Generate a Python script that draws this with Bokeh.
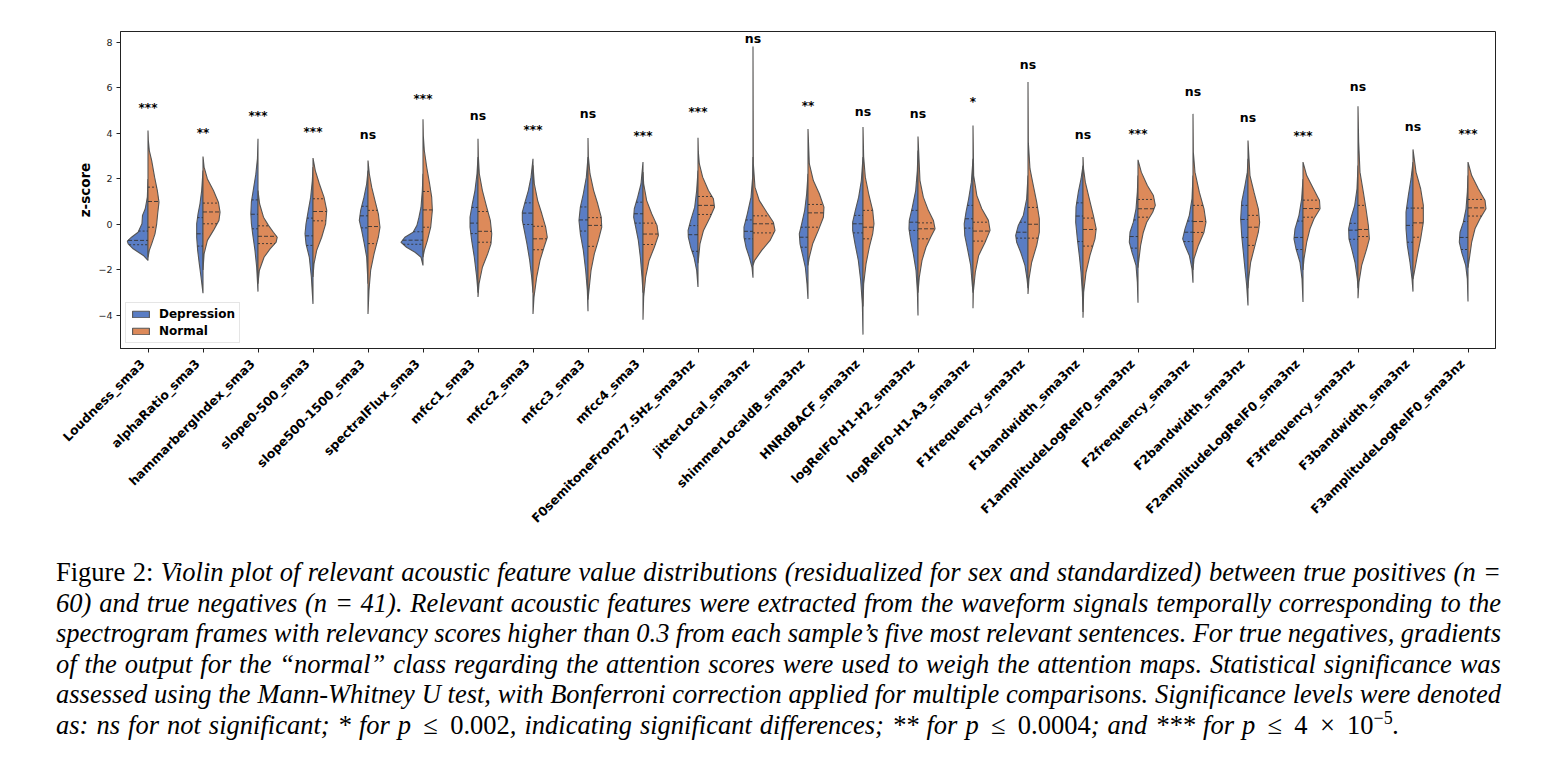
import numpy as np
from bokeh.plotting import figure
from bokeh.models import (Range1d, FixedTicker, Legend, LegendItem, Div, ColumnDataSource,
                          LinearAxis)
from bokeh.layouts import column
from bokeh.embed import file_html
from bokeh.resources import INLINE
from bokeh.core.properties import value

features = ["Loudness_sma3", "alphaRatio_sma3", "hammarbergIndex_sma3", "slope0-500_sma3",
            "slope500-1500_sma3", "spectralFlux_sma3", "mfcc1_sma3", "mfcc2_sma3", "mfcc3_sma3",
            "mfcc4_sma3", "F0semitoneFrom27.5Hz_sma3nz", "jitterLocal_sma3nz", "shimmerLocaldB_sma3nz",
            "HNRdBACF_sma3nz", "logRelF0-H1-H2_sma3nz", "logRelF0-H1-A3_sma3nz", "F1frequency_sma3nz",
            "F1bandwidth_sma3nz", "F1amplitudeLogRelF0_sma3nz", "F2frequency_sma3nz", "F2bandwidth_sma3nz",
            "F2amplitudeLogRelF0_sma3nz", "F3frequency_sma3nz", "F3bandwidth_sma3nz",
            "F3amplitudeLogRelF0_sma3nz"]

sig_labels = ["***", "**", "***", "***", "ns", "***", "ns", "***", "ns", "***", "***", "ns", "**",
              "ns", "ns", "*", "ns", "ns", "***", "ns", "ns", "***", "ns", "ns", "***"]
sig_y = [5.16, 4.06, 4.82, 4.09, 3.91, 5.55, 4.76, 4.18, 4.87, 3.91, 4.97, 8.16, 5.23, 4.94, 4.84,
         5.41, 6.99, 3.94, 4.01, 5.82, 4.67, 3.94, 6.02, 4.29, 4.01]

# Depression (left halves): density profile, z-score levels and half-widths
dep_y = [
    [-1.58, -1.36, -1.07, -0.85, -0.73, -0.56, -0.34, 0.03, 0.40, 0.69, 1.2, 2.0],
    [-3.02, -2.31, -1.73, -1.14, -0.56, 0.03, 0.47, 0.91, 1.49, 2.37],
    [-2.95, -1.88, -1.14, -0.41, 0.03, 0.47, 1.0, 1.6, 2.2, 2.9, 3.77],
    [-3.49, -2.31, -1.44, -0.85, -0.41, 0.03, 0.62, 1.2, 1.93, 2.52],
    [-2.6, -1.44, -0.85, -0.26, 0.18, 0.62, 1.2, 1.79, 2.37],
    [-1.8, -1.44, -1.22, -1.0, -0.78, -0.56, -0.34, -0.04, 0.32, 0.76, 1.49, 2.23],
    [-3.0, -2.31, -1.44, -0.7, -0.12, 0.32, 0.91, 1.49, 2.23, 2.96],
    [-3.0, -2.31, -1.58, -0.85, -0.26, 0.18, 0.54, 0.98, 1.49, 2.08, 2.89],
    [-3.81, -2.9, -2.02, -1.14, -0.41, 0.18, 0.76, 1.35, 2.08, 2.96],
    [-3.0, -2.31, -1.44, -0.7, -0.12, 0.32, 0.69, 1.2, 1.79, 2.74],
    [-2.75, -2.02, -1.44, -1.0, -0.56, -0.26, 0.18, 0.76, 1.49, 2.37],
    [-2.34, -1.88, -1.44, -1.0, -0.56, -0.12, 0.47, 1.2, 2.08, 2.96],
    [-3.27, -2.61, -1.88, -1.29, -0.85, -0.41, 0.03, 0.62, 1.35, 2.23],
    [-4.84, -3.49, -2.46, -1.58, -0.85, -0.26, 0.1, 0.62, 1.2, 1.93, 2.96],
    [-4.0, -2.9, -2.02, -1.29, -0.7, -0.19, 0.18, 0.76, 1.49, 2.37, 3.25],
    [-3.0, -2.68, -1.8, -1.07, -0.48, 0.03, 0.54, 1.13, 1.86, 2.89],
    [-2.8, -2.39, -1.8, -1.22, -0.78, -0.48, -0.04, 0.4, 1.13, 2.15],
    [-3.85, -2.97, -2.1, -1.36, -0.63, 0.1, 0.76, 1.42, 2.0, 2.59],
    [-3.44, -2.53, -1.8, -1.22, -0.78, -0.34, 0.1, 0.69, 1.42, 2.15],
    [-2.56, -1.95, -1.36, -0.92, -0.63, -0.19, 0.4, 1.13, 2.15],
    [-3.56, -2.68, -1.95, -1.22, -0.48, 0.25, 0.98, 1.71, 2.3, 2.89],
    [-3.41, -2.39, -1.66, -1.07, -0.63, -0.19, 0.4, 1.13, 2.0],
    [-2.8, -2.39, -1.66, -1.07, -0.63, -0.19, 0.25, 0.84, 1.57, 2.59],
    [-2.95, -2.39, -1.66, -0.92, -0.19, 0.54, 1.27, 2.0, 2.74],
    [-3.38, -2.39, -1.8, -1.22, -0.78, -0.34, 0.1, 0.69, 1.42, 2.15],
]
dep_w = [
    [0, 0.085, 0.27, 0.36, 0.376, 0.30, 0.18, 0.11, 0.10, 0.05, 0.012, 0],
    [0, 0.036, 0.067, 0.097, 0.115, 0.115, 0.09, 0.055, 0.024, 0],
    [0, 0.024, 0.055, 0.097, 0.12, 0.13, 0.12, 0.08, 0.04, 0.01, 0],
    [0, 0.03, 0.067, 0.127, 0.145, 0.127, 0.085, 0.042, 0.012, 0],
    [0, 0.024, 0.067, 0.115, 0.158, 0.133, 0.073, 0.024, 0],
    [0, 0.036, 0.145, 0.3, 0.4, 0.33, 0.18, 0.11, 0.073, 0.036, 0.012, 0],
    [0, 0.024, 0.067, 0.115, 0.145, 0.145, 0.103, 0.055, 0.018, 0],
    [0, 0.024, 0.06, 0.11, 0.158, 0.194, 0.194, 0.145, 0.085, 0.036, 0],
    [0, 0.012, 0.042, 0.085, 0.139, 0.164, 0.139, 0.085, 0.03, 0],
    [0, 0.018, 0.048, 0.085, 0.133, 0.17, 0.158, 0.097, 0.036, 0],
    [0, 0.024, 0.073, 0.133, 0.176, 0.18, 0.133, 0.06, 0.024, 0],
    [0, 0.018, 0.067, 0.127, 0.164, 0.164, 0.103, 0.036, 0.006, 0],
    [0, 0.018, 0.048, 0.103, 0.145, 0.158, 0.115, 0.06, 0.024, 0],
    [0, 0.012, 0.042, 0.085, 0.145, 0.188, 0.188, 0.139, 0.079, 0.03, 0],
    [0, 0.012, 0.036, 0.085, 0.133, 0.164, 0.158, 0.103, 0.042, 0.012, 0],
    [0, 0.012, 0.042, 0.1, 0.15, 0.16, 0.127, 0.079, 0.03, 0],
    [0, 0.018, 0.055, 0.133, 0.206, 0.224, 0.176, 0.085, 0.024, 0],
    [0, 0.012, 0.036, 0.067, 0.103, 0.133, 0.127, 0.085, 0.036, 0],
    [0, 0.012, 0.036, 0.109, 0.158, 0.145, 0.085, 0.036, 0.012, 0],
    [0, 0.018, 0.067, 0.145, 0.188, 0.145, 0.067, 0.018, 0],
    [0, 0.024, 0.055, 0.085, 0.115, 0.133, 0.115, 0.055, 0.012, 0],
    [0, 0.018, 0.055, 0.127, 0.164, 0.145, 0.073, 0.024, 0],
    [0, 0.012, 0.055, 0.115, 0.164, 0.17, 0.133, 0.06, 0.018, 0],
    [0, 0.018, 0.055, 0.103, 0.127, 0.127, 0.085, 0.036, 0],
    [0, 0.012, 0.042, 0.115, 0.158, 0.145, 0.085, 0.036, 0.012, 0],
]
# Normal (right halves)
nor_y = [
    [-1.45, -1.14, -0.85, -0.41, 0.03, 0.47, 0.98, 1.49, 2.08, 2.81, 3.25, 3.7, 4.13],
    [-2.0, -1.29, -0.70, -0.26, 0.18, 0.54, 0.98, 1.49, 2.0, 2.52, 2.99],
    [-2.6, -2.02, -1.44, -1.07, -0.78, -0.56, -0.34, -0.04, 0.32, 0.9, 1.49],
    [-2.31, -1.73, -1.14, -0.56, 0.03, 0.62, 1.2, 1.79, 2.37, 2.92],
    [-3.93, -2.9, -2.02, -1.29, -0.56, -0.12, 0.47, 1.05, 1.64, 2.23, 2.81],
    [-1.44, -1.14, -0.7, -0.12, 0.62, 1.2, 1.79, 2.52, 3.25, 3.9, 4.62],
    [-3.19, -2.61, -1.88, -1.29, -0.85, -0.41, 0.18, 0.76, 1.49, 2.23, 3.0, 3.77],
    [-3.93, -3.19, -2.31, -1.58, -1.0, -0.56, -0.12, 0.47, 1.05, 1.79, 2.6],
    [-3.3, -2.02, -1.29, -0.7, -0.12, 0.32, 0.91, 1.49, 2.23, 3.0, 3.8],
    [-4.19, -3.19, -2.31, -1.58, -1.0, -0.48, -0.04, 0.47, 1.05, 1.79, 2.3],
    [-1.7, -1.44, -0.85, -0.26, 0.32, 0.76, 1.13, 1.49, 2.08, 2.67, 3.2, 3.81],
    [-1.8, -1.58, -1.14, -0.7, -0.26, 0.1, 0.54, 1.05, 1.64, 2.67, 5.0, 7.82],
    [-1.8, -1.44, -0.85, -0.26, 0.32, 0.76, 1.35, 1.93, 2.67, 4.2],
    [-3.6, -2.61, -1.73, -1.0, -0.41, 0.03, 0.62, 1.35, 2.08, 2.96, 4.28],
    [-3.0, -2.31, -1.58, -1.0, -0.56, -0.19, 0.18, 0.62, 1.2, 1.93, 3.87],
    [-3.68, -2.97, -2.1, -1.36, -0.78, -0.26, 0.18, 0.69, 1.27, 2.15, 4.35],
    [-3.05, -2.39, -1.66, -0.92, -0.34, 0.25, 0.98, 1.71, 2.45, 3.62, 6.26],
    [-4.1, -2.97, -2.1, -1.36, -0.63, -0.19, 0.4, 1.13, 1.86, 2.45, 2.96],
    [-1.9, -1.51, -0.92, -0.34, 0.1, 0.54, 0.84, 1.27, 1.71, 2.3, 2.84],
    [-2.0, -1.51, -0.92, -0.34, 0.1, 0.69, 1.42, 2.3, 3.18, 4.86],
    [-2.8, -2.39, -1.66, -0.92, -0.34, 0.1, 0.69, 1.42, 2.15, 3.69],
    [-2.0, -1.51, -0.78, -0.19, 0.25, 0.69, 1.05, 1.57, 2.15, 2.74],
    [-3.24, -2.53, -1.8, -1.07, -0.63, -0.04, 0.69, 1.42, 2.3, 3.62, 5.19],
    [-2.4, -2.1, -1.36, -0.63, 0.1, 0.84, 1.57, 2.3, 3.3],
    [-1.9, -1.51, -0.78, -0.19, 0.25, 0.69, 1.05, 1.57, 2.15, 2.74],
]
nor_w = [
    [0, 0.024, 0.067, 0.127, 0.158, 0.176, 0.2, 0.17, 0.12, 0.067, 0.024, 0.006, 0],
    [0, 0.02, 0.08, 0.19, 0.29, 0.31, 0.28, 0.19, 0.08, 0.02, 0],
    [0, 0.024, 0.11, 0.22, 0.33, 0.35, 0.28, 0.19, 0.1, 0.03, 0],
    [0, 0.018, 0.067, 0.158, 0.23, 0.25, 0.2, 0.115, 0.042, 0],
    [0, 0.018, 0.048, 0.11, 0.188, 0.218, 0.188, 0.127, 0.067, 0.024, 0],
    [0, 0.024, 0.08, 0.14, 0.17, 0.158, 0.12, 0.067, 0.024, 0.006, 0],
    [0, 0.018, 0.08, 0.176, 0.236, 0.25, 0.224, 0.158, 0.08, 0.024, 0.006, 0],
    [0, 0.018, 0.067, 0.127, 0.2, 0.26, 0.23, 0.16, 0.085, 0.024, 0],
    [0, 0.055, 0.115, 0.188, 0.25, 0.24, 0.176, 0.103, 0.036, 0.006, 0],
    [0, 0.012, 0.048, 0.11, 0.206, 0.28, 0.255, 0.158, 0.067, 0.012, 0],
    [0, 0.012, 0.036, 0.1, 0.22, 0.3, 0.28, 0.19, 0.085, 0.024, 0.006, 0],
    [0, 0.03, 0.158, 0.31, 0.4, 0.37, 0.25, 0.115, 0.036, 0.006, 0.003, 0],
    [0, 0.024, 0.085, 0.188, 0.28, 0.29, 0.206, 0.097, 0.024, 0],
    [0, 0.012, 0.055, 0.115, 0.176, 0.2, 0.176, 0.103, 0.042, 0.012, 0],
    [0, 0.024, 0.073, 0.145, 0.23, 0.31, 0.28, 0.188, 0.097, 0.036, 0],
    [0, 0.006, 0.042, 0.103, 0.22, 0.31, 0.28, 0.16, 0.07, 0.012, 0],
    [0, 0.018, 0.067, 0.158, 0.206, 0.206, 0.158, 0.097, 0.036, 0.006, 0],
    [0, 0.012, 0.055, 0.127, 0.218, 0.24, 0.188, 0.115, 0.042, 0.01, 0],
    [0, 0.018, 0.048, 0.097, 0.158, 0.267, 0.315, 0.28, 0.17, 0.06, 0],
    [0, 0.018, 0.097, 0.2, 0.236, 0.2, 0.115, 0.036, 0.006, 0],
    [0, 0.012, 0.048, 0.127, 0.188, 0.212, 0.188, 0.109, 0.036, 0],
    [0, 0.018, 0.067, 0.127, 0.2, 0.31, 0.3, 0.19, 0.067, 0],
    [0, 0.018, 0.067, 0.158, 0.206, 0.188, 0.145, 0.097, 0.036, 0.012, 0],
    [0, 0.024, 0.079, 0.139, 0.188, 0.188, 0.139, 0.055, 0],
    [0, 0.024, 0.067, 0.127, 0.218, 0.327, 0.31, 0.188, 0.067, 0],
]
# quartiles [q1, median, q3]
dep_q = [[-0.89, -0.70, -0.29], [-0.95, -0.41, 0.3], [-0.19, 0.45, 1.08], [-0.92, -0.5, 0.28],
         [-0.15, 0.38, 0.8], [-0.87, -0.69, -0.32], [-0.4, 0.06, 0.75], [0.0, 0.5, 0.95],
         [-0.29, 0.2, 0.77], [0.06, 0.47, 0.98], [-1.18, -0.45, -0.05], [-0.63, -0.3, 0.2],
         [-1.0, -0.56, -0.12], [-0.37, 0.03, 0.4], [-0.26, 0.1, 0.62], [-0.16, 0.25, 0.84],
         [-0.6, -0.34, 0.1], [-0.75, 0.37, 0.95], [-1.04, -0.53, 0.2], [-0.75, -0.34, 0.15],
         [-0.57, 0.22, 0.84], [-1.1, -0.57, 0.15], [-0.65, -0.25, 0.05], [-0.78, -0.04, 0.72],
         [-1.1, -0.57, 0.13]]
nor_q = [[-0.12, 1.01, 1.64], [0.03, 0.55, 0.94], [-0.84, -0.52, -0.06], [0.16, 0.57, 1.13],
         [-0.84, -0.09, 0.62], [-0.12, 0.64, 1.45], [-0.78, -0.3, 0.57], [-1.11, -0.63, -0.08],
         [-0.96, -0.04, 0.3], [-0.88, -0.42, 0.06], [0.44, 0.84, 1.23], [-0.37, 0.03, 0.38],
         [-0.12, 0.51, 0.88], [-0.63, -0.12, 0.62], [-0.63, -0.19, 0.07], [-0.73, -0.29, 0.1],
         [-0.6, 0.01, 0.75], [-0.95, -0.22, 0.28], [0.32, 0.69, 1.1], [-0.35, 0.13, 0.84],
         [-0.92, -0.12, 0.4], [0.32, 0.7, 1.07], [-0.53, -0.22, 0.84], [-0.56, 0.07, 0.72],
         [0.37, 0.73, 1.1]]

y_ticks = [-4, -2, 0, 2, 4, 6, 8]

BLUE = "#5a7dc4"
ORANGE = "#dd8a5a"
EDGE = "#555555"
FONT = "DejaVu Sans"
LABEL_SHIFT = 0.1   # matplotlib-style right alignment of rotated labels (category units)

p = figure(frame_width=1375, frame_height=317, min_border_left=120, min_border_right=45,
           min_border_top=31, min_border_bottom=190, output_backend="svg", toolbar_location=None,
           x_range=Range1d(-0.5, len(features) - 0.5), y_range=Range1d(-5.45, 8.48),
           background_fill_color="white", border_fill_color="white")
p.xgrid.visible = False
p.ygrid.visible = False
p.outline_line_color = "#222222"
p.outline_line_width = 1

# half violins
dep_xs, dep_ys, nor_xs, nor_ys = [], [], [], []
for i in range(len(features)):
    dep_xs.append([i - w for w in dep_w[i]])
    dep_ys.append(list(dep_y[i]))
    nor_xs.append([i + w for w in nor_w[i]])
    nor_ys.append(list(nor_y[i]))

r_dep = p.patches(dep_xs, dep_ys, fill_color=BLUE, line_color=EDGE, line_width=1.1)
r_nor = p.patches(nor_xs, nor_ys, fill_color=ORANGE, line_color=EDGE, line_width=1.1)

# quartile lines
med = dict(x0=[], x1=[], y=[])
qrt = dict(x0=[], x1=[], y=[])
for i in range(len(features)):
    for k, q in enumerate(dep_q[i]):
        w = float(np.interp(q, dep_y[i], dep_w[i]))
        d = med if k == 1 else qrt
        d["x0"].append(i - w); d["x1"].append(i); d["y"].append(q)
    for k, q in enumerate(nor_q[i]):
        w = float(np.interp(q, nor_y[i], nor_w[i]))
        d = med if k == 1 else qrt
        d["x0"].append(i); d["x1"].append(i + w); d["y"].append(q)
p.segment(x0="x0", x1="x1", y0="y", y1="y", source=ColumnDataSource(qrt),
          line_color="#333333", line_width=0.9, line_dash="2 2")
p.segment(x0="x0", x1="x1", y0="y", y1="y", source=ColumnDataSource(med),
          line_color="#333333", line_width=0.9, line_dash="4 2")

# significance labels
ast = dict(x=[], y=[], t=[])
nss = dict(x=[], y=[], t=[])
for i, (lab, yy) in enumerate(zip(sig_labels, sig_y)):
    d = nss if lab == "ns" else ast
    d["x"].append(i); d["y"].append(yy); d["t"].append(lab)
p.text(x="x", y="y", text="t", source=ColumnDataSource(nss), text_align="center",
       text_baseline="alphabetic", y_offset=-0.5, text_font=value(FONT), text_font_style="bold",
       text_font_size="12.5px", text_color="black")
p.text(x="x", y="y", text="t", source=ColumnDataSource(ast), text_align="center",
       text_baseline="alphabetic", y_offset=1.0, text_font=value(FONT), text_font_style="bold",
       text_font_size="12px", text_color="black")

# x axis 1: tick marks only
p.xaxis.ticker = FixedTicker(ticks=list(range(len(features))))
p.xaxis.major_label_overrides = {i: "" for i in range(len(features))}
p.xaxis.major_label_text_font_size = "0px"
p.xaxis.major_label_standoff = 0
p.xaxis.minor_tick_line_color = None

# x axis 2: feature names (rotated, right-aligned like matplotlib)
label_ticks = [i - LABEL_SHIFT for i in range(len(features))]
xlab = LinearAxis(ticker=FixedTicker(ticks=label_ticks),
                  major_label_overrides={t: f for t, f in zip(label_ticks, features)})
xlab.major_label_orientation = np.pi / 4
xlab.major_label_text_font = FONT
xlab.major_label_text_font_style = "bold"
xlab.major_label_text_font_size = "12.4px"
xlab.major_label_text_color = "black"
xlab.major_label_standoff = 9
xlab.major_tick_line_color = None
xlab.major_tick_in = 0
xlab.major_tick_out = 0
xlab.minor_tick_line_color = None
xlab.axis_line_color = None
p.add_layout(xlab, "below")

p.yaxis.ticker = FixedTicker(ticks=y_ticks)
p.yaxis.major_label_overrides = {t: (f"\u2212{abs(t)}" if t < 0 else str(t)) for t in y_ticks}
p.yaxis.major_label_text_font = FONT
p.yaxis.major_label_text_font_size = "9.5px"
p.yaxis.major_label_text_color = "#222222"
p.yaxis.major_label_standoff = 4
p.yaxis.minor_tick_line_color = None
p.yaxis.axis_label = "z-score"
p.yaxis.axis_label_text_font = FONT
p.yaxis.axis_label_text_font_style = "bold"
p.yaxis.axis_label_text_font_size = "13.5px"
p.yaxis.axis_label_text_color = "black"
p.yaxis.axis_label_standoff = 2

for ax in (p.xaxis[0], p.yaxis[0]):
    ax.major_tick_in = 0
    ax.major_tick_out = 4
    ax.major_tick_line_color = "#222222"
    ax.axis_line_color = "#222222"

legend = Legend(items=[LegendItem(label="Depression", renderers=[r_dep]),
                       LegendItem(label="Normal", renderers=[r_nor])],
                location=(5, 5), orientation="vertical")
legend.label_text_font = FONT
legend.label_text_font_style = "bold"
legend.label_text_font_size = "12px"
legend.label_text_color = "black"
legend.glyph_width = 21
legend.glyph_height = 8
legend.label_height = 14
legend.label_standoff = 8
legend.spacing = 3
legend.padding = 4
legend.margin = 0
legend.border_line_color = "#cccccc"
legend.border_line_width = 1
legend.background_fill_alpha = 0.85
p.add_layout(legend)

# caption
def sp(t, italic=True):
    return f'<span style="font-style:{"italic" if italic else "normal"}">{t}</span>'

def rel(sym):
    return f'<span style="font-style:normal; margin:0 0.16em">{sym}</span>'

cap_lines = [
    [sp("Figure", False), sp("2:", False)] + [sp(w) for w in
        "Violin plot of relevant acoustic feature value distributions (residualized for sex and standardized) between true positives (n =".split()],
    [sp(w) for w in "60) and true negatives (n = 41). Relevant acoustic features were extracted from the waveform signals temporally corresponding to the".split()],
    [sp(w) for w in "spectrogram frames with relevancy scores higher than 0.3 from each sample\u2019s five most relevant sentences. For true negatives, gradients".split()],
    [sp(w) for w in "of the output for the \u201cnormal\u201d class regarding the attention scores were used to weigh the attention maps. Statistical significance was".split()],
    [sp(w) for w in "assessed using the Mann-Whitney U test, with Bonferroni correction applied for multiple comparisons. Significance levels were denoted".split()],
]
last = (sp("as:") + " " + sp("ns") + " " + sp("for not significant; * for") + " " + sp("p") + " "
        + rel("\u2264") + " " + sp("0.002", False) + sp(", indicating significant differences; ** for") + " "
        + sp("p") + " " + rel("\u2264") + " " + sp("0.0004", False) + sp("; and *** for") + " " + sp("p") + " "
        + rel("\u2264") + " " + sp("4", False) + " " + rel("\u00d7") + " "
        + sp("10<sup style='font-size:0.68em; line-height:0; vertical-align:0.55em'>\u22125</sup>", False)
        + sp("."))

html = ('<div style="box-sizing:content-box; padding:14px 0 0 0; margin-left:51px; width:1445px; '
        'font-family:\'Liberation Serif\', serif; font-size:26.5px; line-height:30.6px; color:black;">')
for toks in cap_lines:
    html += ('<div style="display:flex; justify-content:space-between; white-space:nowrap;">'
             + "".join(toks) + "</div>")
html += f'<div style="white-space:nowrap; word-spacing:1.4px;">{last}</div></div>'

cap = Div(text=html, width=1540, height=215)

layout = column(p, cap)
open("out.html", "w").write(file_html(layout, INLINE))
